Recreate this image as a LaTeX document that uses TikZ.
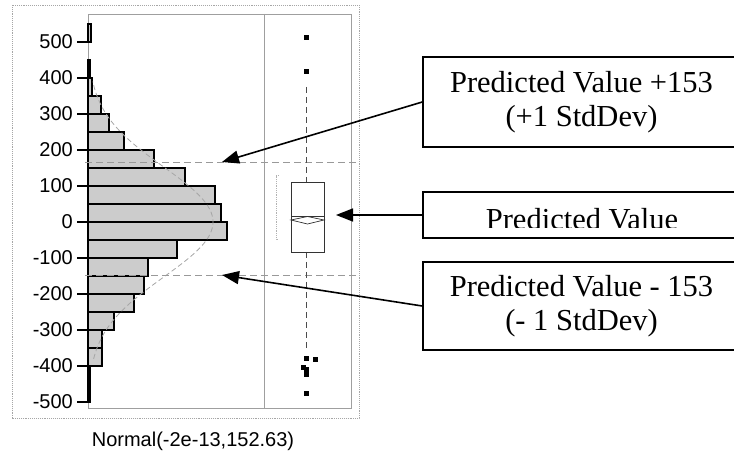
\documentclass[tikz,border=0pt]{standalone}
\usepackage{fontspec}
\setmainfont{Liberation Serif}
\newfontfamily\plotfont{Liberation Sans}
\usetikzlibrary{arrows.meta}

\begin{document}
\begin{tikzpicture}[x=1pt, y=-1pt,
    frameline/.style={draw=gray!75, line width=0.8pt},
    outerframe/.style={draw=gray!70, densely dotted, line width=0.9pt},
    histbar/.style={fill=gray!40, draw=black, line width=1.7pt},
    axislabel/.style={font=\plotfont\fontsize{20}{22}\selectfont, anchor=east, inner sep=0pt},
    sdline/.style={draw=gray!80, dash pattern=on 7pt off 4pt, line width=0.9pt},
    normcurve/.style={draw=gray!70, dash pattern=on 5pt off 3pt, line width=0.8pt},
    whisker/.style={draw=gray!60!black, dash pattern=on 6pt off 4pt, line width=0.7pt},
    outlier/.style={fill=black, draw=none, minimum size=5pt, inner sep=0pt},
    callout/.style={draw=black, line width=1.5pt, minimum width=317pt, font=\fontsize{30.5}{34}\selectfont, align=center, inner sep=0pt},
    pointer/.style={-{Triangle[length=17pt, width=13pt]}, line width=1.6pt, black}
  ]
  \useasboundingbox (0,0) rectangle (734,457);
  \clip (0,0) rectangle (734,457);

  % --- Frames ---
  \draw[outerframe] (12,5) rectangle (359,418);
  \draw[frameline] (88,14) rectangle (351,408);
  \draw[frameline] (264,14) -- (264,408);

  % --- Histogram, in data units ---
  \begin{scope}[shift={(0,222)}, y=0.36pt]
    \foreach \v/\w in {500/91, 400/90, 350/92, 300/101, 250/109, 200/124, 150/154, 100/185, 50/215, 0/221,
                       -50/227, -100/177, -150/148, -200/144, -250/134, -300/114, -350/102, -400/102, -450/90, -500/90}
      \draw[histbar] (88,\v) rectangle (\w,\v+50);

    \foreach \v [count=\i] in {-500,-400,...,500} {
      \draw[line width=1.4pt] (77,\v) -- (88,\v);
      \node[axislabel] (tick\i) at (73,\v) {\v};
    }

    % fitted normal
    \draw[normcurve] plot[domain=-380:390, samples=90, smooth] ({88+125*exp(-0.5*(\x/152.63)^2)}, \x);
  \end{scope}

  % --- +/- 1 StdDev lines ---
  \draw[sdline] (85,162) -- (357,162);
  \draw[sdline] (85,275) -- (357,275);
  \coordinate (hi_tip) at (222,162);
  \coordinate (mid_tip) at (336,215);
  \coordinate (lo_tip) at (222,275);

  % --- Box plot ---
  \draw[whisker] (306,87) -- (306,182);
  \draw[whisker] (306,252) -- (306,348);
  \draw[draw=gray!40!black, line width=0.8pt] (291,182) rectangle (324,252);
  \draw[gray!40!black, line width=0.8pt] (291,216) -- (324,216);
  \draw[gray!40!black, line width=0.7pt] (291,220) -- (307.5,216.5) -- (324,220) -- (307.5,224) -- cycle;
  \draw[gray!60, densely dotted, line width=0.8pt] (279,175) -- (276,175) -- (276,239) -- (279,239);
  \foreach \px/\py [count=\i] in {306/38, 306/72, 306/358, 315/359, 303/367, 306/369, 306/374, 306/393}
    \node[outlier] (out\i) at (\px,\py) {};

  \node[font=\plotfont\fontsize{20}{22}\selectfont] (fitlabel) at (193,441) {Normal(-2e-13,152.63)};

  % --- Callouts ---
  \node[callout, minimum height=90pt] (box_hi) at (581.5,102) {Predicted Value +153\\(+1 StdDev)};
  \node[callout, minimum height=46pt] (box_mid) at (581.5,215) {};
  \node[callout, minimum height=88pt] (box_lo) at (581.5,306) {Predicted Value - 153\\(- 1 StdDev)};
  \begin{scope}
    \clip (423,192) rectangle (740,228);
    \node[font=\fontsize{30.5}{34}\selectfont, anchor=base] (pv_text) at (582,230) {Predicted Value};
  \end{scope}

  % --- Connections ---
  \draw[pointer] (box_hi.west) -- (hi_tip);
  \draw[pointer] (box_mid.west) -- (mid_tip);
  \draw[pointer] (box_lo.west) -- (lo_tip);

\end{tikzpicture}
\end{document}
